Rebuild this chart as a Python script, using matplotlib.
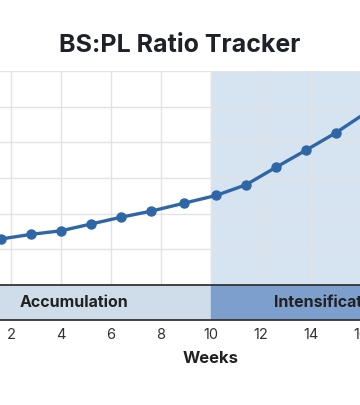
import matplotlib
matplotlib.use("Agg")
import matplotlib.pyplot as plt

plt.rcParams['font.family'] = ['Inter', 'DejaVu Sans']

title = "BS:PL Ratio Tracker"
weeks = [0.4, 1.6, 2.8, 4.0, 5.2, 6.4, 7.6, 8.9, 10.2, 11.4, 12.6, 13.8, 15.0, 16.2, 17.4, 18.6]
ratio = [1.018, 1.029, 1.042, 1.052, 1.071, 1.090, 1.107, 1.129, 1.151, 1.181, 1.230, 1.278, 1.327, 1.383, 1.44, 1.50]
phase_names = ["Accumulation", "Intensification"]
phase_starts = [-1, 10]
phase_ends = [10, 19.5]
phase_colors = ["#cfdcea", "#7d9fce"]
xticks = [0, 2, 4, 6, 8, 10, 12, 14, 16, 18, 20]
yticks = [0.9, 1.0, 1.1, 1.2, 1.3, 1.4, 1.5]

W, H = 360, 405
fig = plt.figure(figsize=(W / 100, H / 100), dpi=100)
fig.patch.set_facecolor("white")

left_px, right_px = -64, 486
top_px, bot_px = 71, 285
strip_bot = 320

ax = fig.add_axes([left_px / W, 1 - bot_px / H, (right_px - left_px) / W, (bot_px - top_px) / H])
axs = fig.add_axes([left_px / W, 1 - strip_bot / H, (right_px - left_px) / W, (strip_bot - bot_px) / H], sharex=ax)

ax.set_xlim(-1, 21)
ax.set_ylim(yticks[0], yticks[-1])
ax.set_xticks(xticks)
ax.set_yticks(yticks)
ax.grid(True, color="#e3e3e3", linewidth=1.0)
ax.set_axisbelow(True)
for s in ax.spines.values():
    s.set_visible(False)
ax.tick_params(labelbottom=False, labelleft=False, length=0)

ax.axvspan(phase_starts[1], 21, color="#d6e4f1", zorder=0)
ax.plot(weeks, ratio, color="#2f66a6", linewidth=2.4, marker="o", markersize=6.5, zorder=3)

for name, s, e, c in zip(phase_names, phase_starts, phase_ends, phase_colors):
    axs.axvspan(s, 21 if s == 10 else e, color=c, zorder=0)
    axs.text((s + e) / 2, 0.5, name, ha="center", va="center", fontsize=11.5,
             fontweight="bold", color="#222222", transform=axs.get_xaxis_transform())
axs.set_ylim(0, 1)
axs.set_yticks([])
for k in ["left", "right"]:
    axs.spines[k].set_visible(False)
for k in ["top", "bottom"]:
    axs.spines[k].set_color("#333333")
    axs.spines[k].set_linewidth(1.3)
axs.tick_params(axis="x", length=0, pad=6, labelsize=10.5, labelcolor="#333333")
axs.set_xlabel("Weeks", fontsize=12, fontweight="bold", color="#222222", labelpad=6)

fig.text(0.5, 1 - 46 / H, title, ha="center", va="center", fontsize=18,
         fontweight="bold", color="#1e2228")

fig.savefig("out.png", dpi=100, facecolor="white")
